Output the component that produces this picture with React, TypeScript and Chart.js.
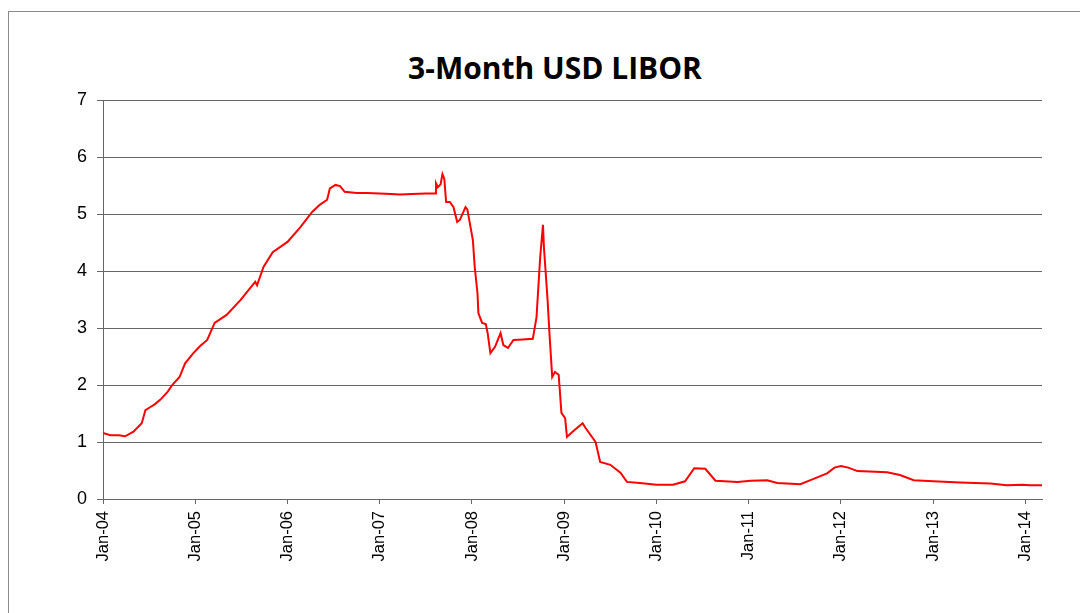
import React, { useEffect, useRef } from "react";
import { Chart, registerables } from "chart.js";

Chart.register(...registerables);

const title = "3-Month USD LIBOR";

// decimal years (Jan-04 = 2004.0)
const years = [
  2004.0, 2004.08, 2004.17, 2004.24, 2004.33, 2004.42, 2004.46, 2004.51, 2004.56, 2004.62,
  2004.7, 2004.75, 2004.83, 2004.89, 2004.98, 2005.05, 2005.13, 2005.21, 2005.34, 2005.49,
  2005.65, 2005.67, 2005.74, 2005.84, 2006.0, 2006.14, 2006.27, 2006.35, 2006.43, 2006.46,
  2006.52, 2006.57, 2006.62, 2006.75, 2006.86, 2007.0, 2007.12, 2007.22, 2007.35, 2007.5,
  2007.6, 2007.61, 2007.63, 2007.66, 2007.68, 2007.7, 2007.72, 2007.76, 2007.8, 2007.84,
  2007.87, 2007.93, 2007.95, 2007.98, 2008.01, 2008.03, 2008.06, 2008.07, 2008.11, 2008.15,
  2008.17, 2008.2, 2008.25, 2008.31, 2008.34, 2008.39, 2008.45, 2008.55, 2008.66, 2008.7,
  2008.74, 2008.77, 2008.78, 2008.82, 2008.84, 2008.87, 2008.9, 2008.94, 2008.97, 2009.01,
  2009.03, 2009.09, 2009.2, 2009.23, 2009.34, 2009.39, 2009.5, 2009.61, 2009.68, 2009.82,
  2010.0, 2010.18, 2010.31, 2010.41, 2010.53, 2010.64, 2010.88, 2011.02, 2011.2, 2011.31,
  2011.56, 2011.67, 2011.85, 2011.93, 2012.0, 2012.08, 2012.18, 2012.5, 2012.64, 2012.79,
  2013.0, 2013.29, 2013.62, 2013.8, 2013.97, 2014.05, 2014.18,
];

const rates = [
  1.16, 1.12, 1.12, 1.1, 1.18, 1.33, 1.56, 1.61, 1.66, 1.74,
  1.88, 2.0, 2.14, 2.38, 2.56, 2.68, 2.79, 3.09, 3.23, 3.49,
  3.81, 3.75, 4.07, 4.33, 4.51, 4.77, 5.04, 5.16, 5.25, 5.45,
  5.51, 5.49, 5.39, 5.37, 5.37, 5.36, 5.35, 5.34, 5.35, 5.36,
  5.36, 5.54, 5.47, 5.52, 5.7, 5.62, 5.21, 5.21, 5.12, 4.86,
  4.9, 5.12, 5.08, 4.81, 4.54, 4.07, 3.61, 3.26, 3.09, 3.07,
  2.91, 2.56, 2.67, 2.91, 2.7, 2.65, 2.79, 2.8, 2.81, 3.19,
  4.25, 4.81, 4.42, 3.49, 2.91, 2.14, 2.23, 2.18, 1.51, 1.42,
  1.09, 1.18, 1.33, 1.25, 1.0, 0.65, 0.6, 0.46, 0.3, 0.28,
  0.25, 0.25, 0.31, 0.54, 0.53, 0.32, 0.3, 0.32, 0.33, 0.28,
  0.26, 0.33, 0.45, 0.55, 0.58, 0.55, 0.49, 0.47, 0.42, 0.33,
  0.31, 0.29, 0.27, 0.24, 0.25, 0.24, 0.24,
];

const tickYears = [2004, 2005, 2006, 2007, 2008, 2009, 2010, 2011, 2012, 2013, 2014];
const tickLabels = ["Jan-04", "Jan-05", "Jan-06", "Jan-07", "Jan-08", "Jan-09", "Jan-10", "Jan-11", "Jan-12", "Jan-13", "Jan-14"];
const xMin = 2004;
const xMax = 2014.18;
const yMin = 0;
const yMax = 7;

export default function App() {
  const ref = useRef<HTMLCanvasElement | null>(null);

  useEffect(() => {
    if (!ref.current) return;
    const gridColor = "#666666";
    const family = "'Liberation Sans', Arial, sans-serif";
    const chart = new Chart(ref.current, {
      type: "line",
      data: {
        datasets: [
          {
            label: title,
            data: years.map((x, i) => ({ x, y: rates[i] })),
            borderColor: "#ff0000",
            borderWidth: 2,
            pointRadius: 0,
            tension: 0,
            fill: false,
          },
        ],
      },
      options: {
        animation: false,
        responsive: false,
        maintainAspectRatio: false,
        layout: { padding: { left: 0, right: 38, top: 100, bottom: 0 } },
        plugins: {
          legend: { display: false },
          title: { display: false },
          tooltip: { enabled: false },
        },
        scales: {
          x: {
            type: "linear",
            min: xMin,
            max: xMax,
            afterBuildTicks: (s: any) => {
              s.ticks = tickYears.map((v) => ({ value: v }));
            },
            afterFit: (s: any) => {
              s.height = 114;
            },
            ticks: {
              autoSkip: false,
              minRotation: 90,
              maxRotation: 90,
              padding: 7,
              color: "#000",
              font: { family, size: 16.5 },
              callback: (v: any) => {
                const i = tickYears.indexOf(Number(v));
                return i >= 0 ? tickLabels[i] : "";
              },
            },
            grid: {
              drawOnChartArea: false,
              drawTicks: true,
              tickLength: 5,
              color: gridColor,
            },
            border: { display: true, color: gridColor, width: 1 },
          },
          y: {
            min: yMin,
            max: yMax,
            afterFit: (s: any) => {
              s.width = 103;
            },
            ticks: {
              stepSize: 1,
              padding: 10,
              color: "#000",
              font: { family, size: 18 },
            },
            grid: {
              color: gridColor,
              lineWidth: 1,
              tickLength: 6,
            },
            border: { display: true, color: gridColor, width: 1 },
          },
        },
      },
    });
    return () => chart.destroy();
  }, []);

  return (
    <div style={{ position: "fixed", left: 0, top: 0, width: 1080, height: 613, overflow: "hidden", background: "#fff" }}>
      <div
        style={{
          position: "absolute",
          left: 8,
          top: 11,
          width: 1200,
          height: 800,
          borderLeft: "1px solid #8a8a8a",
          borderTop: "1px solid #8a8a8a",
        }}
      />
      <div
        style={{
          position: "absolute",
          left: 0,
          top: 53,
          width: 1110,
          textAlign: "center",
          fontFamily: "'Open Sans', sans-serif",
          fontWeight: 700,
          fontSize: 30,
          lineHeight: "30px",
          color: "#000",
        }}
      >
        {title}
      </div>
      <canvas ref={ref} width={1080} height={613} style={{ position: "absolute", left: 0, top: 0, width: 1080, height: 613 }} />
    </div>
  );
}
